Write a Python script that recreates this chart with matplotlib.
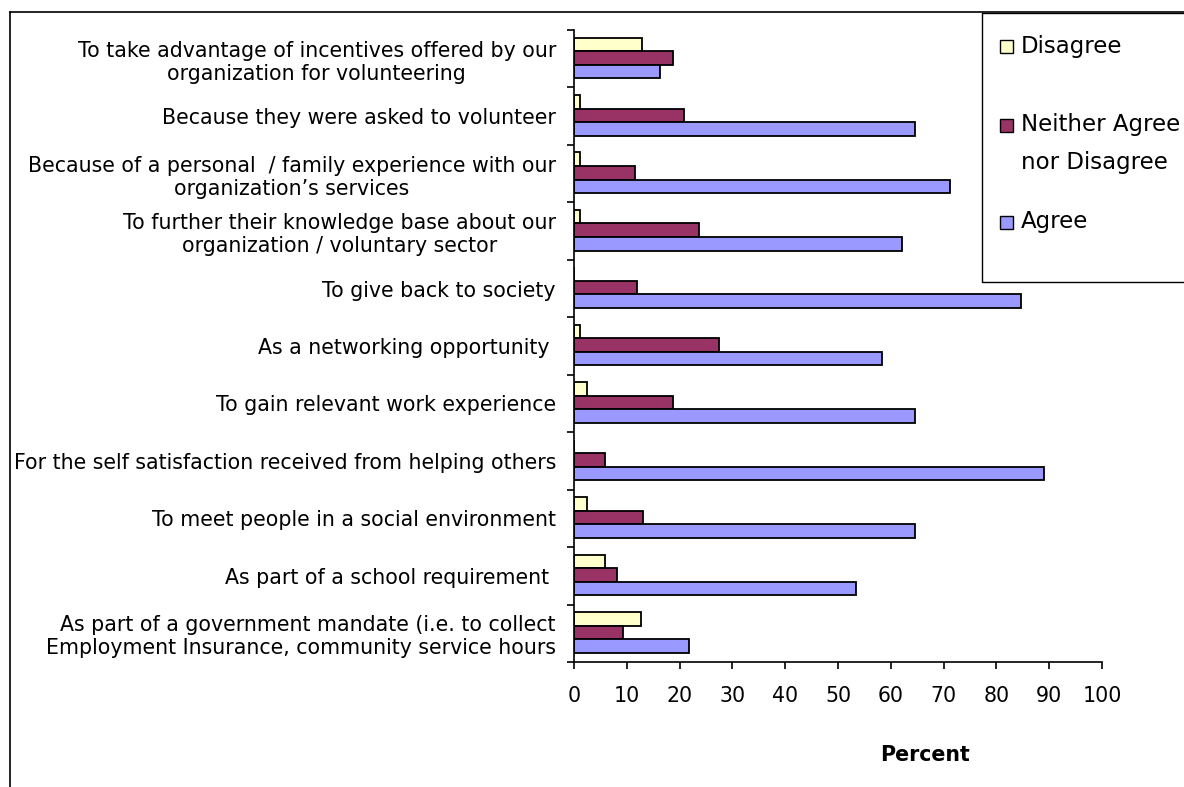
import numpy as np
import matplotlib
matplotlib.use("Agg")
import matplotlib.pyplot as plt
from matplotlib.patches import Rectangle
from matplotlib.lines import Line2D

# categories, top to bottom
reasons = [
    "To take advantage of incentives offered by our\norganization for volunteering",
    "Because they were asked to volunteer",
    "Because of a personal  / family experience with our\norganization\u2019s services",
    "To further their knowledge base about our\norganization / voluntary sector",
    "To give back to society",
    "As a networking opportunity ",
    "To gain relevant work experience",
    "For the self satisfaction received from helping others",
    "To meet people in a social environment",
    "As part of a school requirement ",
    "As part of a government mandate (i.e. to collect\nEmployment Insurance, community service hours",
]
disagree = [12.9, 1.2, 1.2, 1.2, 0.0, 1.2, 2.4, 0.0, 2.4, 5.8, 12.6]
neither = [18.7, 20.9, 11.5, 23.6, 11.9, 27.4, 18.7, 5.8, 13.0, 8.1, 9.2]
agree = [16.3, 64.5, 71.3, 62.2, 84.6, 58.4, 64.5, 89.1, 64.5, 53.5, 21.7]

series_names = ["Disagree", "Neither Agree\nnor Disagree", "Agree"]
series_colors = ["#FFFFCC", "#993366", "#9999FF"]

W, H = 1184, 787


def fx(px):
    return px / W


def fy(py):
    return 1 - py / H


fig = plt.figure(figsize=(W / 100, H / 100), dpi=100)
ax = fig.add_axes([fx(574), fy(662), fx(1102) - fx(574), fy(30) - fy(662)])

y = np.arange(len(reasons))
bh = 0.236
for vals, off, col in zip([disagree, neither, agree], [-bh, 0, bh], series_colors):
    ax.barh(y + off - 0.015, vals, height=bh, color=col, edgecolor="black", linewidth=1.3)

ax.set_xlim(0, 100)
ax.set_ylim(len(reasons) - 0.5, -0.5)
ax.set_xticks(np.arange(0, 101, 10))
ax.tick_params(axis="x", direction="out", length=5, width=1.2, labelsize=14.8, pad=12)

ax.set_yticks(y)
ax.set_yticklabels(reasons, fontsize=14.8, linespacing=1.2)
ax.set_yticks(np.arange(-0.5, len(reasons), 1), minor=True)
ax.tick_params(axis="y", which="major", length=0, pad=13)
ax.tick_params(axis="y", which="minor", direction="out", length=5, width=1.2)
for t in ax.get_yticklabels():
    t.set_multialignment("center")
ax.get_yticklabels()[-1].set_multialignment("right")

for s in ["top", "right"]:
    ax.spines[s].set_visible(False)
for s in ["left", "bottom"]:
    ax.spines[s].set_linewidth(1.2)

fig.text(fx(925), fy(755), "Percent", fontsize=14.8, fontweight="bold", ha="center", va="center")

# outer frame (runs off the right and bottom edges)
fig.add_artist(Line2D([fx(10), 1.0], [fy(12), fy(12)], color="black", lw=1.2))
fig.add_artist(Line2D([fx(10), fx(10)], [fy(12), 0.0], color="black", lw=1.2))

# legend box, also running off the right edge
fig.add_artist(Rectangle((fx(982), fy(282)), fx(1200) - fx(982), fy(13) - fy(282),
                         facecolor="white", edgecolor="black", lw=1.0))
legend_rows = [46, 125, 222]
for name, col, ly in zip(series_names, series_colors, legend_rows):
    fig.add_artist(Rectangle((fx(1000), fy(ly + 6.5)), fx(13), 13 / H,
                             facecolor=col, edgecolor="black", lw=1.0))
    for k, line in enumerate(name.split("\n")):
        fig.text(fx(1021), fy(ly + 38 * k), line, fontsize=16.5, ha="left", va="center")

fig.savefig("out.png", dpi=100)
